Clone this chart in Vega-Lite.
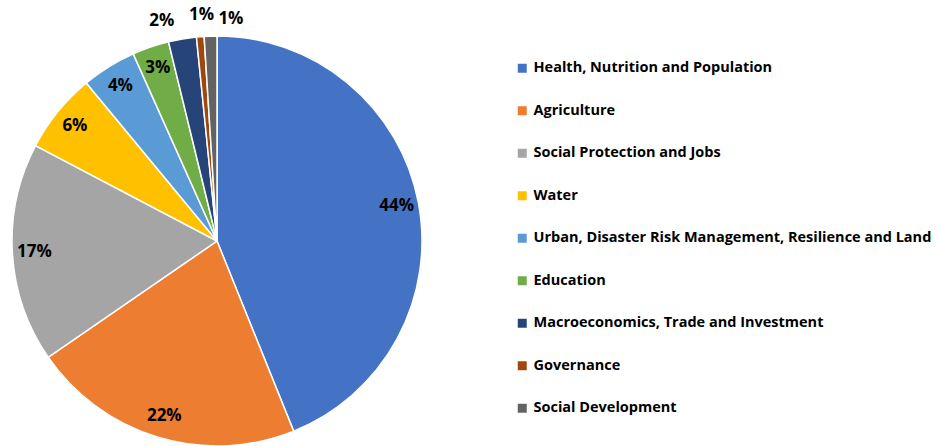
{
  "$schema": "https://vega.github.io/schema/vega-lite/v6.json",
  "width": 410,
  "height": 410,
  "autosize": {"type": "none"},
  "padding": {"left": 12, "top": 36, "right": 517, "bottom": 0},
  "background": "white",
  "config": {"view": {"stroke": null}, "font": "Open Sans"},
  "data": {
    "values": [
      {"i": 1, "sector": "Health, Nutrition and Population", "v": 0.439},
      {"i": 2, "sector": "Agriculture", "v": 0.215},
      {"i": 3, "sector": "Social Protection and Jobs", "v": 0.173},
      {"i": 4, "sector": "Water", "v": 0.063},
      {"i": 5, "sector": "Urban, Disaster Risk Management, Resilience and Land", "v": 0.043},
      {"i": 6, "sector": "Education", "v": 0.029},
      {"i": 7, "sector": "Macroeconomics, Trade and Investment", "v": 0.022},
      {"i": 8, "sector": "Governance", "v": 0.006},
      {"i": 9, "sector": "Social Development", "v": 0.010}
    ]
  },
  "encoding": {
    "theta": {"field": "v", "type": "quantitative", "stack": true},
    "order": {"field": "i", "type": "quantitative"}
  },
  "layer": [
    {
      "mark": {"type": "arc", "radius": 205, "stroke": "white", "strokeWidth": 1.5},
      "encoding": {
        "color": {
          "field": "sector",
          "type": "nominal",
          "scale": {
            "domain": ["Health, Nutrition and Population", "Agriculture", "Social Protection and Jobs", "Water", "Urban, Disaster Risk Management, Resilience and Land", "Education", "Macroeconomics, Trade and Investment", "Governance", "Social Development"],
            "range": ["#4472C4", "#ED7D31", "#A5A5A5", "#FFC000", "#5B9BD5", "#70AD47", "#264478", "#9E480E", "#636363"]
          },
          "legend": {
            "title": null,
            "orient": "none",
            "legendX": 503,
            "legendY": 25,
            "symbolType": "square",
            "symbolSize": 81,
            "symbolStrokeWidth": 0,
            "labelFont": "Open Sans",
            "labelFontWeight": "bold",
            "labelFontSize": 14.5,
            "labelColor": "#000000",
            "labelLimit": 0,
            "labelOffset": 4,
            "rowPadding": 27.5,
            "padding": 0
          }
        }
      }
    },
    {
      "mark": {"type": "text", "radius": 183, "font": "Open Sans", "fontWeight": "bold", "fontSize": 17, "color": "#000000"},
      "encoding": {
        "text": {"condition": {"test": "datum.v < 0.025", "value": ""}, "field": "v", "type": "quantitative", "format": ".0%"}
      }
    },
    {
      "mark": {"type": "text", "radius": 226, "dx": -17, "dy": 3, "font": "Open Sans", "fontWeight": "bold", "fontSize": 17, "color": "#000000"},
      "encoding": {
        "text": {"condition": {"test": "datum.i !== 7", "value": ""}, "field": "v", "type": "quantitative", "format": ".0%"}
      }
    },
    {
      "mark": {"type": "text", "radius": 226, "dx": 3, "dy": -1, "font": "Open Sans", "fontWeight": "bold", "fontSize": 17, "color": "#000000"},
      "encoding": {
        "text": {"condition": {"test": "datum.i !== 8", "value": ""}, "field": "v", "type": "quantitative", "format": ".0%"}
      }
    },
    {
      "mark": {"type": "text", "radius": 226, "dx": 21, "dy": 4, "font": "Open Sans", "fontWeight": "bold", "fontSize": 17, "color": "#000000"},
      "encoding": {
        "text": {"condition": {"test": "datum.i !== 9", "value": ""}, "field": "v", "type": "quantitative", "format": ".0%"}
      }
    }
  ]
}
